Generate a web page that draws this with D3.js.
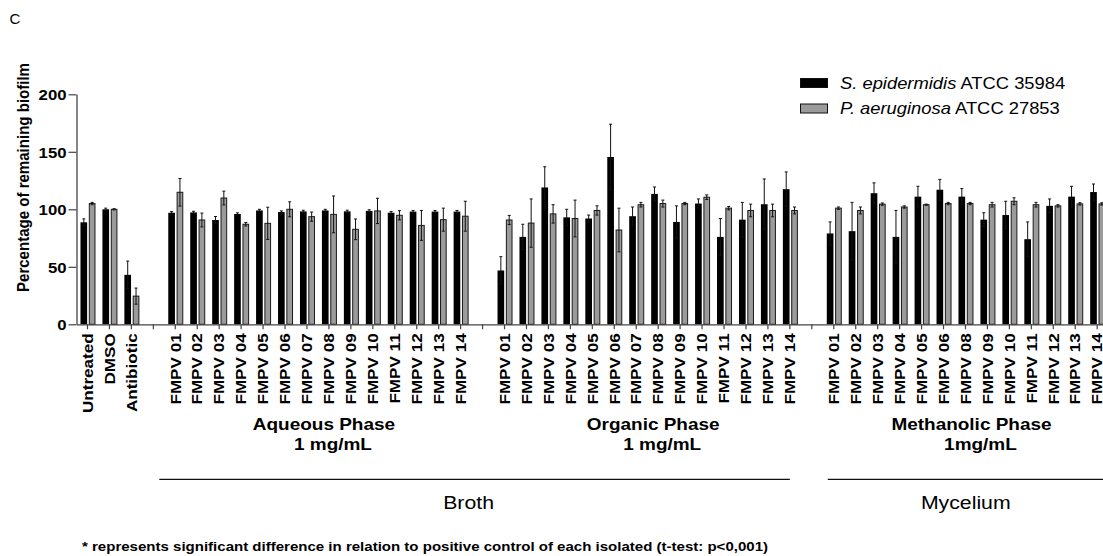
<!DOCTYPE html>
<html>
<head>
<meta charset="utf-8">
<script src="https://cdn.jsdelivr.net/npm/d3@7"></script>
<style>
body { margin: 0; background: #fff; }
svg { display: block; font-family: "Liberation Sans", Arial, sans-serif; }
</style>
</head>
<body>
<svg id="chart" width="1103" height="556"></svg>
<script>
// categories
var controlLabels = ["Untreated", "DMSO", "Antibiotic"]
var aqueousLabels = ["FMPV 01","FMPV 02","FMPV 03","FMPV 04","FMPV 05","FMPV 06","FMPV 07","FMPV 08","FMPV 09","FMPV 10","FMPV 11","FMPV 12","FMPV 13","FMPV 14"]
var organicLabels = ["FMPV 01","FMPV 02","FMPV 03","FMPV 04","FMPV 05","FMPV 06","FMPV 07","FMPV 08","FMPV 09","FMPV 10","FMPV 11","FMPV 12","FMPV 13","FMPV 14"]
var methanolicLabels = ["FMPV 01","FMPV 02","FMPV 03","FMPV 04","FMPV 05","FMPV 06","FMPV 08","FMPV 09","FMPV 10","FMPV 11","FMPV 12","FMPV 13","FMPV 14"]

var speciesNames = ["S. epidermidis", "P. aeruginosa"]
var strainNames = ["ATCC 35984", "ATCC 27853"]
var yTicks = [0, 50, 100, 150, 200]

var groupTitles = ["Aqueous Phase", "Organic Phase", "Methanolic Phase"]
var groupDoses = ["1 mg/mL", "1 mg/mL", "1mg/mL"]
var sourceNames = ["Broth", "Mycelium"]
var footnote = "* represents significant difference in relation to positive control of each isolated (t-test: p<0,001)"

// values (% remaining biofilm), mean and sd
var controlEpi   = [88.7, 100, 43]
var controlEpiSd = [3, 1, 12]
var controlPae   = [105, 100, 24.5]
var controlPaeSd = [1, 0.5, 7]

var aqueousEpi   = [97, 97.3, 90.7, 95.9, 99, 97.6, 98.2, 99, 98.2, 98.6, 97, 98, 98, 98]
var aqueousEpiSd = [1, 1, 3, 1, 1, 1, 1, 1, 1, 1, 1, 1, 1, 1]
var aqueousPae   = [114.8, 90.7, 109.8, 87, 87.8, 100, 93.6, 95.6, 82.6, 98.6, 94.8, 86, 91, 94]
var aqueousPaeSd = [12, 6, 6, 1.5, 14, 6.5, 4, 16, 9, 11, 4, 13, 10, 13]

var organicEpi   = [46.8, 76, 119, 93, 92, 145.5, 94, 113.4, 89, 105, 76, 91, 104.4, 117.5]
var organicEpiSd = [12, 11, 18, 7, 3, 28.5, 8, 6, 14, 4, 16, 15, 22, 15]
var organicPae   = [90.7, 88, 96, 92, 99, 82, 104, 105, 105, 110.5, 101, 99, 99, 99]
var organicPaeSd = [4, 21, 8, 16, 4, 19, 2, 3, 1, 2, 1.5, 5.5, 5.5, 3]

var methanolicEpi   = [79, 81, 114, 76, 111, 117, 111, 91, 95, 74, 103, 111, 115]
var methanolicEpiSd = [10, 25, 9, 23, 9, 9, 7, 6, 12, 15, 6, 9, 7]
var methanolicPae   = [101, 99, 104.5, 102, 104, 105, 105, 104, 107, 104, 103, 104.7, 104.7]
var methanolicPaeSd = [1, 3, 1, 1, 0.5, 1, 1, 2, 3, 2, 1, 1, 1]

var dimensions = {
    width: 1103,
    height: 556,
    margin: { top: 94.3, bottom: 231.7, left: 76.5 }
}
var step = 21.95
var wide = 1.18   // the picture's lettering is wider than Arial

// one row per slot on the x axis, with empty slots between groups
var rows = []
var gapCount = 0
function addGroup(prefix, labels, epi, epiSd, pae, paeSd){
    labels.forEach(function(l, i){
        rows.push({key: prefix + i, label: l, epi: epi[i], epiSd: epiSd[i], pae: pae[i], paeSd: paeSd[i]})
    })
}
function addGap(){
    gapCount++
    rows.push({key: "gap" + gapCount, label: ""})
}
addGroup("ctl", controlLabels, controlEpi, controlEpiSd, controlPae, controlPaeSd)
addGap()
addGroup("aq", aqueousLabels, aqueousEpi, aqueousEpiSd, aqueousPae, aqueousPaeSd)
addGap()
addGroup("org", organicLabels, organicEpi, organicEpiSd, organicPae, organicPaeSd)
addGap()
addGroup("met", methanolicLabels, methanolicEpi, methanolicEpiSd, methanolicPae, methanolicPaeSd)

var svg = d3.select("#chart")
svg.append("rect").attr("width", dimensions.width).attr("height", dimensions.height).attr("fill", "#fff")

var x0 = dimensions.margin.left
var xScale = d3.scaleBand()
               .domain(rows.map(d => d.key))
               .range([x0, x0 + rows.length * step])
               .padding(0)
var subScale = d3.scaleBand()
                 .domain([0, 1])
                 .range([-7, 8])
                 .paddingInner(0.2)
var center = k => xScale(k) + xScale.bandwidth() / 2

var yBase = dimensions.height - dimensions.margin.bottom
var yScale = d3.scaleLinear()
               .domain([0, 200])
               .range([yBase, dimensions.margin.top])

// bars
var barData = []
rows.filter(d => d.epi != null).forEach(function(d){
    barData.push({key: d.key, s: 0, v: d.epi, sd: d.epiSd})
    barData.push({key: d.key, s: 1, v: d.pae, sd: d.paeSd})
})
var colors = ["#000000", "#9b9b9b"]

svg.append("g")
   .selectAll("rect")
   .data(barData)
   .enter()
   .append("rect")
   .attr("x", d => center(d.key) + subScale(d.s) + (d.s == 1 ? 0.5 : 0))
   .attr("width", d => subScale.bandwidth() - (d.s == 1 ? 1 : 0))
   .attr("y", d => yScale(d.v))
   .attr("height", d => yScale(0) - yScale(d.v))
   .attr("fill", d => colors[d.s])
   .attr("stroke", d => d.s == 1 ? "#1a1a1a" : "none")
   .attr("stroke-width", 1)

// error bars
var err = svg.append("g").attr("stroke", "#111").attr("stroke-width", 1)
barData.forEach(function(d){
    var cx = center(d.key) + subScale(d.s) + subScale.bandwidth() / 2
    var top = yScale(d.v + d.sd), bot = yScale(d.v - d.sd)
    err.append("line").attr("x1", cx).attr("x2", cx).attr("y1", top).attr("y2", bot)
    err.append("line").attr("x1", cx - 1.5).attr("x2", cx + 1.5).attr("y1", top).attr("y2", top)
    err.append("line").attr("x1", cx - 1.5).attr("x2", cx + 1.5).attr("y1", bot).attr("y2", bot)
})

// axes
var labelOf = {}
rows.forEach(d => labelOf[d.key] = d.label)

var xAxisGen = d3.axisBottom().scale(xScale).tickSize(5).tickSizeOuter(0).tickFormat(k => labelOf[k])
var xAxis = svg.append("g")
               .attr("transform", `translate(0,${yBase})`)
               .call(xAxisGen)
xAxis.select(".domain").attr("stroke", "#444").attr("stroke-width", 1.3)
xAxis.selectAll(".tick line").attr("stroke", "#444").attr("stroke-width", 1.2)
xAxis.selectAll("text")
     .attr("x", 0).attr("y", 0).attr("dy", "0.36em")
     .attr("text-anchor", "end")
     .attr("transform", `translate(0,9) rotate(-90) scale(${wide},1)`)
     .attr("fill", "#000")
     .style("font-size", "14.5px")
     .style("font-weight", "bold")
     .style("font-family", "'Liberation Sans', Arial, sans-serif")

var yAxisGen = d3.axisLeft().scale(yScale).tickValues(yTicks).tickSize(8).tickSizeOuter(0)
var yAxis = svg.append("g")
               .attr("transform", `translate(${x0},0)`)
               .call(yAxisGen)
yAxis.select(".domain").attr("stroke", "#444").attr("stroke-width", 1.3)
yAxis.selectAll(".tick line").attr("stroke", "#444").attr("stroke-width", 1.2)
yAxis.selectAll("text")
     .attr("x", 0).attr("dy", "0.36em")
     .attr("transform", `translate(-10,0) scale(1.08,1)`)
     .attr("fill", "#000")
     .style("font-size", "15.5px")
     .style("font-weight", "bold")
     .style("font-family", "'Liberation Sans', Arial, sans-serif")

// y title
svg.append("text")
   .attr("transform", "translate(29,177.5) rotate(-90)")
   .attr("text-anchor", "middle")
   .attr("textLength", 229)
   .attr("lengthAdjust", "spacingAndGlyphs")
   .style("font-size", "17px")
   .style("font-weight", "bold")
   .text("Percentage of remaining biofilm")

// panel letter
svg.append("text").attr("x", 9.5).attr("y", 23.5).style("font-size", "15px").text("C")

// legend
var legend = svg.append("g")
speciesNames.forEach(function(name, i){
    var yy = 78 + i * 25.5
    legend.append("rect")
          .attr("x", 800.5).attr("y", yy + 0.5)
          .attr("width", 27).attr("height", 9)
          .attr("fill", colors[i]).attr("stroke", "#111").attr("stroke-width", 1)
    var t = legend.append("text")
                  .attr("transform", `translate(840,${yy + 10.5}) scale(1.17,1)`)
                  .style("font-size", "15.7px")
    t.append("tspan").style("font-style", "italic").text(name)
    t.append("tspan").text(" " + strainNames[i])
})

// group labels under the axis
var groupKeys = [["aq0", "aq13"], ["org0", "org13"], ["met0", "met12"]]
groupKeys.forEach(function(g, i){
    var mid = (center(g[0]) + center(g[1])) / 2
    svg.append("text")
       .attr("transform", `translate(${mid + 6},430) scale(1.15,1)`)
       .attr("text-anchor", "middle")
       .style("font-size", "16.5px").style("font-weight", "bold")
       .text(groupTitles[i])
    svg.append("text")
       .attr("transform", `translate(${mid + 15},450) scale(1.15,1)`)
       .attr("text-anchor", "middle")
       .style("font-size", "16.5px").style("font-weight", "bold")
       .text(groupDoses[i])
})

// source brackets
var sources = [
    {x1: center("aq0") - 16, x2: center("org13")},
    {x1: center("met0") - 6, x2: dimensions.width}
]
sources.forEach(function(s, i){
    svg.append("line")
       .attr("x1", s.x1).attr("x2", s.x2).attr("y1", 479.3).attr("y2", 479.3)
       .attr("stroke", "#111").attr("stroke-width", 1.3)
    var mid = i == 0 ? (s.x1 + s.x2) / 2 - 6 : center("met0") + 132
    svg.append("text")
       .attr("transform", `translate(${mid},509) scale(1.12,1)`)
       .attr("text-anchor", "middle")
       .style("font-size", "19px")
       .text(sourceNames[i])
})

// footnote
svg.append("text")
   .attr("x", 82).attr("y", 551)
   .attr("textLength", 686)
   .attr("lengthAdjust", "spacingAndGlyphs")
   .style("font-size", "13.5px").style("font-weight", "bold")
   .text(footnote)
</script>
</body>
</html>
